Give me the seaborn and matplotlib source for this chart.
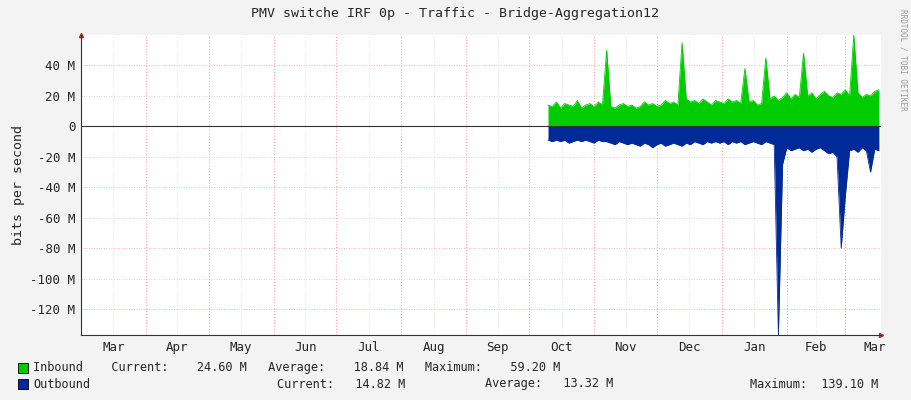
import numpy as np
import matplotlib
matplotlib.use('Agg')
import matplotlib.pyplot as plt
import seaborn as sns

# days counted from Mar 1 of the first year
month_names = ['Mar', 'Apr', 'May', 'Jun', 'Jul', 'Aug', 'Sep', 'Oct', 'Nov', 'Dec', 'Jan', 'Feb', 'Mar']
month_starts = [0, 31, 61, 92, 122, 153, 184, 214, 245, 275, 306, 337, 365]
days = list(range(223, 383, 2))
inbound = [14, 13, 16, 12, 15, 14, 13, 17, 12, 14,
           15, 13, 16, 14, 50, 13, 12, 14, 15, 13,
           14, 12, 13, 16, 14, 15, 13, 14, 17, 15,
           16, 14, 55, 18, 16, 17, 15, 18, 16, 14,
           17, 16, 15, 18, 16, 17, 15, 38, 16, 17,
           14, 15, 45, 18, 20, 17, 19, 22, 18, 21,
           19, 48, 20, 22, 18, 21, 23, 20, 19, 22,
           21, 24, 20, 60, 22, 19, 21, 20, 23, 24]
outbound = [-9, -10, -9, -10, -9, -11, -10, -9, -10, -9,
            -10, -11, -9, -10, -10, -11, -12, -10, -11, -12,
            -11, -12, -13, -11, -12, -14, -12, -11, -13, -12,
            -11, -12, -13, -11, -12, -10, -11, -12, -10, -11,
            -10, -11, -10, -12, -10, -11, -10, -12, -11, -10,
            -11, -12, -10, -11, -12, -137, -25, -14, -16, -15,
            -14, -16, -15, -17, -15, -14, -16, -18, -17, -20,
            -80, -45, -16, -15, -17, -14, -16, -30, -15, -16]
y_ticks = [-120, -100, -80, -60, -40, -20, 0, 20, 40]

sns.set_style('white')
plt.rcParams['font.family'] = ['DejaVu Sans Mono']

fig = plt.figure(figsize=(9.11, 4.0), dpi=100, facecolor='#F3F3F3')
ax = fig.add_axes([81/911, 65/400, 800/911, 300/400])
ax.set_facecolor('white')

ax.fill_between(days, 0, inbound, color='#00CC00', lw=0)
ax.fill_between(days, 0, outbound, color='#002A97', lw=0)
sns.lineplot(x=days, y=inbound, ax=ax, color='#00CC00', lw=0.6)
sns.lineplot(x=days, y=outbound, ax=ax, color='#002A97', lw=0.6)

ax.set_xlim(0, 382)
ax.set_ylim(-137, 60)

# grid
for v in y_ticks:
    ax.axhline(v, color='#FF9999' if v % 40 == 0 else '#CCCCCC', ls=(0, (1, 2)), lw=0.6, zorder=0)
for m in month_starts:
    ax.axvline(m, color='#FF9999', ls=(0, (1, 2)), lw=0.7, zorder=0)
for a, b in zip(month_starts[:-1], month_starts[1:]):
    ax.axvline((a + b) / 2, color='#DDDDDD', ls=(0, (1, 2)), lw=0.6, zorder=0)
ax.axhline(0, color='#333333', lw=0.8)

ax.set_yticks(y_ticks)
ax.set_yticklabels([('%d M' % v) if v else '0' for v in y_ticks], fontsize=9)
centers = [(a + b) / 2 for a, b in zip(month_starts[:-1], month_starts[1:])] + [379]
ax.set_xticks(centers)
ax.set_xticklabels(month_names, fontsize=9)
ax.tick_params(length=0, pad=4)
for s in ['top', 'right']:
    ax.spines[s].set_visible(False)
for s in ['left', 'bottom']:
    ax.spines[s].set_color('#333333')
    ax.spines[s].set_linewidth(0.8)
ax.plot(1, 0, '>', color='#AA3333', ms=3, transform=ax.transAxes, clip_on=False)
ax.plot(0, 1, '^', color='#AA3333', ms=3, transform=ax.transAxes, clip_on=False)
ax.set_ylabel('bits per second', fontsize=9.5)

fig.text(455/911, 1 - 14/400, 'PMV switche IRF 0p - Traffic - Bridge-Aggregation12',
         ha='center', va='center', fontsize=9.5)
fig.text(903/911, 1 - 60/400, 'RRDTOOL / TOBI OETIKER', rotation=270, ha='center', va='center',
         fontsize=5.5, color='#999999')

def px(x, y):
    return x / 911, 1 - y / 400

for yy, col in [(368, '#00CC00'), (384, '#002A97')]:
    fig.patches.append(plt.Rectangle(px(18, yy + 5), 10/911, 10/400, transform=fig.transFigure,
                                     facecolor=col, edgecolor='black', lw=0.6))
fig.text(*px(33, 368), 'Inbound    Current:    24.60 M   Average:    18.84 M   Maximum:    59.20 M',
         va='center', fontsize=8.6)
fig.text(*px(33, 384), 'Outbound', va='center', fontsize=8.6)
fig.text(*px(277, 384), 'Current:   14.82 M', va='center', fontsize=8.6)
fig.text(*px(485, 384), 'Average:   13.32 M', va='center', fontsize=8.6)
fig.text(*px(750, 384), 'Maximum:  139.10 M', va='center', fontsize=8.6)

fig.savefig('out.png', dpi=100, facecolor=fig.get_facecolor())
